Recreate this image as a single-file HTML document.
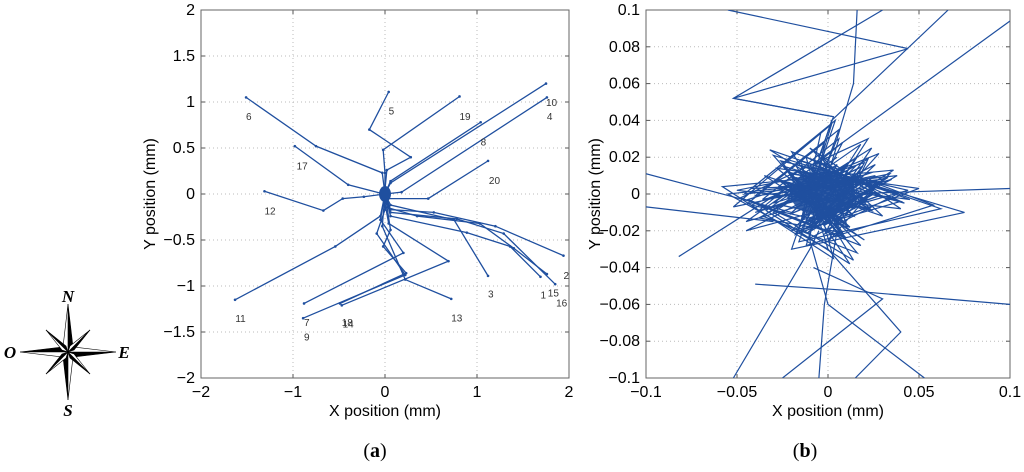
<!DOCTYPE html>
<html><head><meta charset="utf-8"><style>
body{margin:0;background:#fff;width:1024px;height:467px;overflow:hidden;font-family:"Liberation Sans",sans-serif}
svg text{font-family:"Liberation Sans",sans-serif}
</style></head><body>
<svg id="s" width="1024" height="467" xmlns="http://www.w3.org/2000/svg">
<g transform="translate(68,352)">
  <g stroke="#000" stroke-width="0.6">
    <polygon points="0,-48 5,-5 0,0" fill="#000"/><polygon points="0,-48 -5,-5 0,0" fill="#fff"/>
    <polygon points="0,48 -5,5 0,0" fill="#000"/><polygon points="0,48 5,5 0,0" fill="#fff"/>
    <polygon points="48,0 5,5 0,0" fill="#000"/><polygon points="48,0 5,-5 0,0" fill="#fff"/>
    <polygon points="-48,0 -5,-5 0,0" fill="#000"/><polygon points="-48,0 -5,5 0,0" fill="#fff"/>
    <polygon points="22,-22 6,-2 0,0" fill="#000"/><polygon points="22,-22 2,-6 0,0" fill="#fff"/>
    <polygon points="-22,-22 -2,-6 0,0" fill="#000"/><polygon points="-22,-22 -6,-2 0,0" fill="#fff"/>
    <polygon points="22,22 2,6 0,0" fill="#000"/><polygon points="22,22 6,2 0,0" fill="#fff"/>
    <polygon points="-22,22 -6,2 0,0" fill="#000"/><polygon points="-22,22 -2,6 0,0" fill="#fff"/>
  </g>
  <text x="0" y="-50" text-anchor="middle" font-style="italic" font-weight="bold" font-size="17" style="font-family:'Liberation Serif',serif">N</text>
  <text x="0" y="64" text-anchor="middle" font-weight="bold" font-style="italic" font-size="17" style="font-family:'Liberation Serif',serif">S</text>
  <text x="-58" y="6" text-anchor="middle" font-weight="bold" font-style="italic" font-size="17" style="font-family:'Liberation Serif',serif">O</text>
  <text x="56" y="6" text-anchor="middle" font-weight="bold" font-style="italic" font-size="17" style="font-family:'Liberation Serif',serif">E</text>
</g>
<text x="375" y="457" text-anchor="middle" font-size="20" style="font-family:'Liberation Serif',serif">(<tspan font-weight="bold">a</tspan>)</text>
<text x="805" y="457" text-anchor="middle" font-size="20" style="font-family:'Liberation Serif',serif">(<tspan font-weight="bold">b</tspan>)</text>
</svg>
<script>
// ---- Panel (a) data ----
const trajNames=["6","17","12","5","19","10","4","8","20","2","15","16","1","3","13","11","7","9","18","14"];
const trajX=[[-1.51,-0.75,-0.03,0],[-0.98,-0.40,-0.05,0],[-1.31,-0.67,-0.46,-0.23,0],[0.04,-0.17,0.28,0.02,0],[0.81,-0.02,0,0],[1.75,0.06,0],[1.76,0.18,0],[1.04,0.06,0],[1.12,0.47,0.02,0],[1.94,1.20,0.53,0.06,0],[1.76,1.40,1.03,0.35,0],[1.85,1.29,0.78,0.06,0],[1.69,1.36,0.89,0.06,0],[1.12,0.75,0.06,0],[0.72,0.22,-0.03,0],[-1.63,-0.54,-0.05,0],[-0.89,0.22,-0.09,0,0],[-0.88,0.20,-0.05,0],[-0.47,0.69,0.04,0],[-0.49,0.23,-0.02,0.06,0]];
const trajY=[[1.05,0.52,0.23,0],[0.52,0.10,0.01,0],[0.03,-0.18,-0.05,-0.03,0],[1.11,0.70,0.40,0.26,0.05],[1.06,0.48,0.23,0],[1.20,0.12,0],[1.05,0.02,0],[0.78,0.14,0],[0.36,-0.05,-0.05,0],[-0.67,-0.35,-0.20,-0.17,0],[-0.87,-0.59,-0.32,-0.24,-0.14],[-0.98,-0.43,-0.27,-0.20,0],[-0.90,-0.57,-0.42,-0.24,0],[-0.89,-0.28,-0.12,0],[-1.14,-0.93,-0.35,0],[-1.15,-0.57,-0.24,0],[-1.35,-0.88,-0.43,-0.17,0],[-1.19,-0.64,-0.28,0],[-1.21,-0.73,-0.32,-0.1],[-1.19,-0.86,-0.57,-0.39,0]];
const labelX=[-1.48,-0.90,-1.25,0.07,0.87,1.81,1.79,1.07,1.19,1.97,1.83,1.92,1.72,1.15,0.78,-1.57,-0.85,-0.85,-0.41,-0.40];
const labelY=[0.85,0.31,-0.18,0.91,0.85,1.00,0.85,0.57,0.15,-0.88,-1.07,-1.18,-1.09,-1.08,-1.34,-1.35,-1.39,-1.55,-1.39,-1.41];
const ticksA=[-2,-1,0,1,2];
const ticksAY=[-2,-1.5,-1,-0.5,0,0.5,1,1.5,2];
// ---- Panel (b) data (thousandths of mm) ----
const walkX=[10,-40,25,-30,5,-45,35,-20,15,-50,40,-10,30,-35,20,-25,45,-15,0,-55,38,-5,28,-42,12,-28,50,-18,8,-38,33,-8,22,-48,18,-22,42,-12,3,-58,36,-3,26,-45,14,-32,62,-16,6,-40,30,-6,24,-36,16,-26,44,-14,2,-52,34,-2,20,-44,10,-30,75,-20,4,-42,28,-10,18,-34,12,-24,40,-16,-4,-46,30,0,22,-38,8,-20,58,-12,6,-36,26,-8,16,-30,14,-18,38,-10,-2,-44];
const walkY=[5,-10,12,-5,20,-15,8,-20,15,2,-8,25,-12,10,-25,6,-3,18,-30,0,10,-14,22,-6,-18,14,3,-22,28,-9,9,-16,30,-2,-28,12,-5,20,-35,4,13,-11,16,-20,-4,24,-8,-26,35,-1,7,-18,25,-12,-32,18,2,-14,38,-7,11,-22,17,-3,-24,21,-10,-30,40,3,6,-16,27,-9,-38,15,-4,-20,33,0,8,-26,19,-13,-21,23,-6,-28,30,-3,10,-15,20,-10,-36,16,0,-24,28,-5];
const coreX=[-12,15,-20,8,-5,22,-18,12,-25,18,-8,26,-15,5,-22,14,-10,20,-28,10,-3,24,-16,6,-20,17,-12,28,-6,12,-24,9,-14,21,-2,16,-19,7,-26,19,-9,13,-17,23,-4,11,-21,15,-11,25];
const coreY=[6,-8,2,12,-14,-3,9,-18,4,10,-6,1,-20,16,-2,-12,14,-5,8,-16,20,-9,3,-22,11,5,-15,-1,18,-10,7,-24,13,-4,-17,9,2,-13,-6,15,-19,6,12,-8,-2,17,-11,4,-21,0];
const outX=[[-55,44,-52,3,-5],[16,14,5,-3],[30,-52,3],[66,2,-8],[100,-10],[-100,-20],[-100,-30],[100,10],[100,5,-40],[-52,-10,-5],[-25,30,-8],[15,40,0],[53,0,-10],[-82,-20],[-5,-2,5]];
const outY=[[100,79,52,42,20],[100,60,30,10],[100,52,42],[100,40,10],[94,15],[11,-10],[-7,-15],[3,0],[-60,-52,-49],[-100,-30,-20],[-100,-57,-40],[-100,-75,-30],[-100,-60,-25],[-34,5],[-100,-60,-20]];
const ticksB=[-0.1,-0.05,0,0.05,0.1];
const ticksBY=[-0.1,-0.08,-0.06,-0.04,-0.02,0,0.02,0.04,0.06,0.08,0.1];

const NS="http://www.w3.org/2000/svg",S=document.getElementById('s');
function mk(t,a,p){const e=document.createElementNS(NS,t);for(const k in a)e.setAttribute(k,a[k]);(p||S).appendChild(e);return e;}
const C="#1f4f9f";
function axes(L,R,T,B,xmin,xmax,ymin,ymax,xt,yt,name,fmt){
  const g=mk('g',{});
  
  
  const sx=v=>L+(v-xmin)/(xmax-xmin)*(R-L), sy=v=>B-(v-ymin)/(ymax-ymin)*(B-T);
  xt.forEach(v=>{const x=sx(v);
    if(v!==xmin&&v!==xmax)mk('line',{x1:x,x2:x,y1:T,y2:B,stroke:'#bbb','stroke-dasharray':'1,3','stroke-width':1},g);
    mk('line',{x1:x,x2:x,y1:B,y2:B-4,stroke:'#555'},g);mk('line',{x1:x,x2:x,y1:T,y2:T+4,stroke:'#555'},g);
    const t=mk('text',{x:x,y:B+19,'text-anchor':'middle','font-size':16},g);t.textContent=fmt(v);
    
    });
  yt.forEach(v=>{const y=sy(v);
    if(v!==ymin&&v!==ymax)mk('line',{x1:L,x2:R,y1:y,y2:y,stroke:'#bbb','stroke-dasharray':'1,3','stroke-width':1},g);
    mk('line',{x1:L,x2:L+4,y1:y,y2:y,stroke:'#555'},g);mk('line',{x1:R,x2:R-4,y1:y,y2:y,stroke:'#555'},g);
    const t=mk('text',{x:L-6,y:y+5,'text-anchor':'end','font-size':16},g);t.textContent=fmt(v);
    
    });
  mk('rect',{x:L,y:T,width:R-L,height:B-T,fill:'none',stroke:'#666'},g);
  const xl=mk('text',{x:(L+R)/2,y:B+38,'text-anchor':'middle','font-size':16},g);xl.textContent='X position (mm)';
  
  
  const yl=mk('text',{x:0,y:0,'text-anchor':'middle','font-size':16,transform:`translate(${L-46},${(T+B)/2}) rotate(-90)`},g);yl.textContent='Y position (mm)';
  
  
  return {sx,sy};
}
const fa=v=>v<0?'\u2212'+Math.abs(v):''+v;
const A=axes(201,569,10,378,-2,2,-2,2,ticksA,ticksAY,'chart-a',fa);
const clipA=mk('clipPath',{id:'ca'});mk('rect',{x:201,y:10,width:368,height:368},clipA);
const ga=mk('g',{'clip-path':'url(#ca)'});
trajX.forEach((xs,i)=>{const ys=trajY[i];
  const p=mk('polyline',{points:xs.map((x,j)=>A.sx(x)+','+A.sy(ys[j])).join(' '),fill:'none',stroke:C,'stroke-width':1.3},ga);
  
  
  xs.forEach((x,j)=>mk('circle',{cx:A.sx(x),cy:A.sy(ys[j]),r:1.3,fill:C},ga));
  const t=mk('text',{x:A.sx(labelX[i]),y:A.sy(labelY[i])+4,'text-anchor':'middle','font-size':10,fill:'#333'},ga);t.textContent=trajNames[i];
  
  
});
mk('ellipse',{cx:A.sx(0),cy:A.sy(0),rx:6,ry:8,fill:C},ga);
const fb=v=>v===0?'0':(v<0?'\u2212':'')+String(Math.abs(v));
const B=axes(646,1010,10,378,-0.1,0.1,-0.1,0.1,ticksB,ticksBY,'chart-b',fb);
const clipB=mk('clipPath',{id:'cb'});mk('rect',{x:646,y:10,width:364,height:368},clipB);
const gb=mk('g',{'clip-path':'url(#cb)'});
const n=Math.min(walkX.length,walkY.length);
const w=mk('polyline',{points:walkX.slice(0,n).map((x,j)=>B.sx(x/1000)+','+B.sy(walkY[j]/1000)).join(' '),fill:'none',stroke:C,'stroke-width':1.2},gb);


const n2=Math.min(coreX.length,coreY.length);
const w2=mk('polyline',{points:coreX.slice(0,n2).map((x,j)=>B.sx(x/1000)+','+B.sy(coreY[j]/1000)).join(' '),fill:'none',stroke:C,'stroke-width':1.4},gb);


outX.forEach((xs,i)=>{const ys=outY[i];
  const p=mk('polyline',{points:xs.map((x,j)=>B.sx(x/1000)+','+B.sy(ys[j]/1000)).join(' '),fill:'none',stroke:C,'stroke-width':1.2},gb);
  
  
});
mk('ellipse',{cx:B.sx(-0.003),cy:B.sy(0),rx:32,ry:22,fill:C,opacity:0.9},gb);
</script>
</body></html>
